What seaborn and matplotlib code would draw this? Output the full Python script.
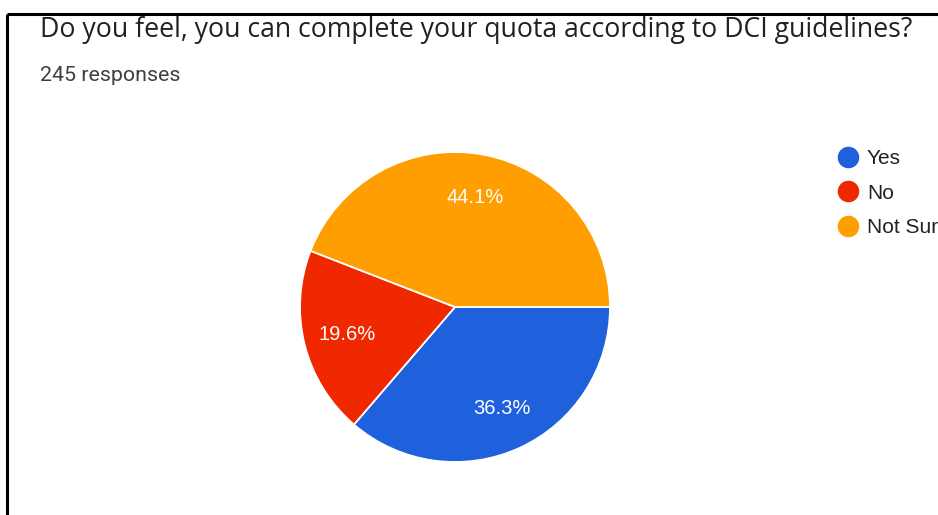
import matplotlib
matplotlib.use("Agg")
import matplotlib.pyplot as plt
from matplotlib.lines import Line2D
import seaborn as sns

# ---- data ----
categories = ["Yes", "No", "Not Sure"]
percentages = [36.3, 19.6, 44.1]
colors = ["#1F60DC", "#F02800", "#FF9E00"]
title = "Do you feel, you can complete your quota according to DCI guidelines?"
subtitle = "245 responses"

sns.set_theme(style="white")
plt.rcParams["font.family"] = ["Roboto", "DejaVu Sans"]

W, H = 938, 515
fig = plt.figure(figsize=(W / 100, H / 100), dpi=100)
fig.patch.set_facecolor("white")

# border lines (top and left)
fig.add_artist(Line2D([7 / W, 1.0], [1 - 14 / H, 1 - 14 / H], color="black", lw=2.2,
                      transform=fig.transFigure, solid_capstyle="butt"))
fig.add_artist(Line2D([7 / W, 7 / W], [1 - 14 / H, 0], color="black", lw=2.2,
                      transform=fig.transFigure, solid_capstyle="butt"))

# titles
fig.text(40 / W, 1 - 36.5 / H, title, fontsize=19.2, color="#202124", va="baseline", ha="left",
         family=["Open Sans", "DejaVu Sans"])
fig.text(40 / W, 1 - 81 / H, subtitle, fontsize=15.4, color="#3c4043", va="baseline", ha="left")

# pie
cx, cy, r = 455, 515 - 307, 155
ax = fig.add_axes([(cx - r) / W, (cy - r) / H, 2 * r / W, 2 * r / H])
wedges, texts, autotexts = ax.pie(
    percentages, colors=colors, startangle=0, counterclock=False,
    autopct=lambda p: f"{p:.1f}%", pctdistance=0.72, radius=1.0,
    wedgeprops=dict(edgecolor="white", linewidth=1.3),
    textprops=dict(color="white", fontsize=14.5, family=["Liberation Sans", "DejaVu Sans"]),
)
ax.set_xlim(-1.0, 1.0)
ax.set_ylim(-1.0, 1.0)
ax.set_aspect("equal")
ax.axis("off")

# legend (the last label runs off the right edge, as in the reference)
handles = [Line2D([0], [0], marker="o", linestyle="none", markersize=14.5,
                  markerfacecolor=c, markeredgecolor=c) for c in colors]
leg = fig.legend(handles, categories, loc="upper left",
                 bbox_to_anchor=(835.5 / W, 1 - 149.5 / H), frameon=False,
                 prop=dict(family=["Liberation Sans", "DejaVu Sans"], size=15),
                 labelspacing=0.73, handletextpad=0.31, handlelength=1.2,
                 borderaxespad=0, borderpad=0)
for t in leg.get_texts():
    t.set_color("#222222")

fig.savefig("out.png", dpi=100, facecolor="white")
